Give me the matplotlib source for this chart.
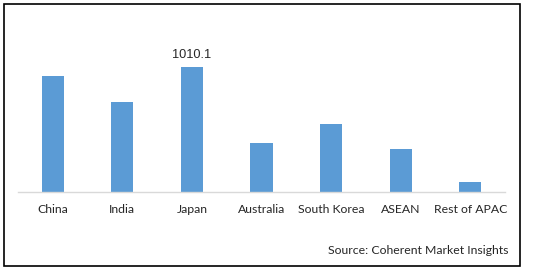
import matplotlib
matplotlib.use("Agg")
import matplotlib.pyplot as plt
from matplotlib.patches import Rectangle

categories = ["China", "India", "Japan", "Australia", "South Korea", "ASEAN", "Rest of APAC"]
values = [937.0, 727.0, 1010.1, 396.0, 549.0, 347.0, 81.0]
label_index = 2
label_text = "1010.1"

W, H = 533, 269
fig = plt.figure(figsize=(W / 100, H / 100), dpi=100)
ax = fig.add_axes([18 / W, (H - 192) / H, 487 / W, 173 / H])

x = list(range(len(categories)))
ax.bar(x, values, width=0.32, color="#5b9bd5", zorder=2)
ax.set_xlim(-0.5, len(categories) - 0.5)
ax.set_ylim(0, 1400)
ax.set_xticks(x)
ax.set_xticklabels(categories, fontfamily="Lato", fontsize=8.8, color="#262626")
ax.tick_params(axis="x", length=0, pad=8.5)
ax.set_yticks([])
for s in ["top", "right", "left"]:
    ax.spines[s].set_visible(False)
ax.spines["bottom"].set_color("#d9d9d9")
ax.spines["bottom"].set_linewidth(1.0)

ax.annotate(label_text, (x[label_index], values[label_index]), xytext=(0, 4.5),
            textcoords="offset points", ha="center", va="bottom",
            fontfamily="Liberation Sans", fontsize=9.2, color="#262626")

fig.text(509 / W, 1 - 251 / H, "Source: Coherent Market Insights", ha="right", va="center",
         fontfamily="Lato", fontsize=8.8, color="#262626")

fig.patches.append(Rectangle((3.5 / W, 3.5 / H), (520 - 3.5) / W, (265 - 3.5) / H,
                             transform=fig.transFigure, fill=False, edgecolor="black",
                             linewidth=1.2))

fig.savefig("out.png", dpi=100)
